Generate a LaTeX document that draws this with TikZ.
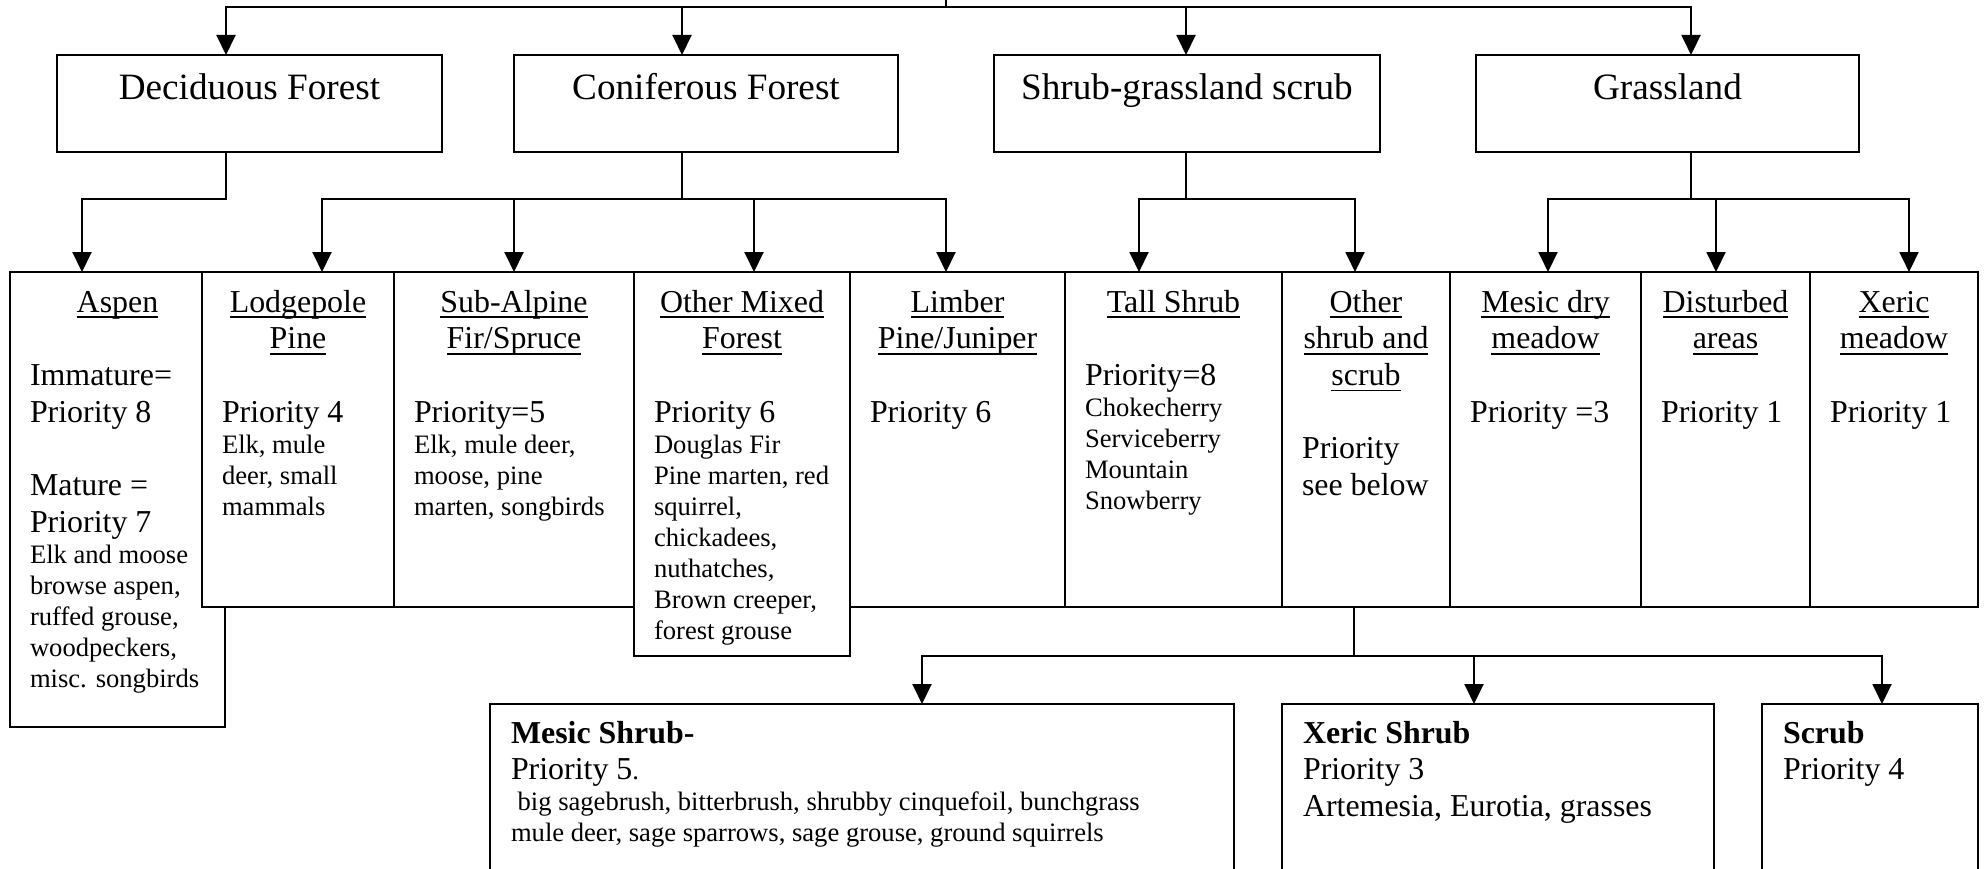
\documentclass[tikz,border=0pt]{standalone}
\usepackage{fontspec}
\setmainfont{Liberation Serif}
\usetikzlibrary{arrows.meta}
\newcommand{\uline}[1]{\leavevmode\setbox0\hbox{#1}\rlap{\rule[-6pt]{\wd0}{1.8pt}}\box0}
\newcommand{\headfont}{\fontsize{37.2}{42.8}\selectfont}
\newcommand{\bigfont}{\fontsize{31.9}{36.7}\selectfont}
\newcommand{\smallfont}{\fontsize{26.6}{31.1}\selectfont}
\newcommand{\boxtext}[3]{\parbox[t][#2pt][t]{#1pt}{#3}}
\newcommand{\lefttext}[1]{\par\leftskip=#1pt\rightskip=0pt plus 1fil\relax}
\newcommand{\blankline}{\par\vspace{36.7pt}}
\begin{document}
\begin{tikzpicture}[x=1pt,y=-1pt]
\tikzstyle{cell}=[draw, line width=2pt, fill=white, inner sep=0pt, outer sep=0pt, anchor=north west]
\tikzstyle{arr}=[line width=2pt, -{Triangle[length=20pt,width=19pt]}]
\tikzstyle{wire}=[line width=2pt]
\useasboundingbox (0,0) rectangle (1986,869);
\node[cell] (dec) at (57,55) {\boxtext{385}{97}{\headfont\centering\rule{0pt}{45pt}Deciduous Forest\par}};
\node[cell] (con) at (514,55) {\boxtext{384}{97}{\headfont\centering\rule{0pt}{45pt}Coniferous Forest\par}};
\node[cell] (shr) at (994,55) {\boxtext{386}{97}{\headfont\centering\rule{0pt}{45pt}Shrub-grassland scrub\par}};
\node[cell] (gra) at (1476,55) {\boxtext{383}{97}{\headfont\centering\rule{0pt}{45pt}Grassland\par}};
\node[cell] (asp) at (10,272) {\boxtext{215}{455}{\bigfont\centering\rule{0pt}{40pt}\uline{Aspen}\lefttext{20}\vspace{36.7pt}Immature=\\Priority 8\blankline Mature =\\Priority 7\par
  \smallfont Elk and moose\\browse aspen,\\ruffed grouse,\\woodpeckers,\\misc. songbirds\par}};
\node[cell] (lod) at (202,272) {\boxtext{192}{335}{\bigfont\centering\rule{0pt}{40pt}\uline{Lodgepole}\\\uline{Pine}\lefttext{20}\vspace{36.7pt}Priority 4\par
  \smallfont Elk, mule\\deer, small\\mammals\par}};
\node[cell] (sub) at (394,272) {\boxtext{240}{335}{\bigfont\centering\rule{0pt}{40pt}\uline{Sub-Alpine}\\\uline{Fir/Spruce}\lefttext{20}\vspace{36.7pt}Priority=5\par
  \smallfont Elk, mule deer,\\moose, pine\\marten, songbirds\par}};
\node[cell] (mix) at (634,272) {\boxtext{216}{384}{\bigfont\centering\rule{0pt}{40pt}\uline{Other Mixed}\\\uline{Forest}\lefttext{20}\vspace{36.7pt}Priority 6\par
  \smallfont Douglas Fir\\Pine marten, red\\squirrel,\\chickadees,\\nuthatches,\\Brown creeper,\\forest grouse\par}};
\node[cell] (lim) at (850,272) {\boxtext{215}{335}{\bigfont\centering\rule{0pt}{40pt}\uline{Limber}\\\uline{Pine/Juniper}\lefttext{20}\vspace{36.7pt}Priority 6\par}};
\node[cell] (tal) at (1065,272) {\boxtext{217}{335}{\bigfont\centering\rule{0pt}{40pt}\uline{Tall Shrub}\lefttext{20}\vspace{36.7pt}Priority=8\par
  \smallfont Chokecherry\\Serviceberry\\Mountain\\Snowberry\par}};
\node[cell] (oth) at (1282,272) {\boxtext{168}{335}{\bigfont\centering\rule{0pt}{40pt}\uline{Other}\\\uline{shrub and}\\\uline{scrub}\lefttext{20}\vspace{36.7pt}Priority\\see below\par}};
\node[cell] (mes) at (1450,272) {\boxtext{191}{335}{\bigfont\centering\rule{0pt}{40pt}\uline{Mesic dry}\\\uline{meadow}\lefttext{20}\vspace{36.7pt}Priority =3\par}};
\node[cell] (dis) at (1641,272) {\boxtext{169}{335}{\bigfont\centering\rule{0pt}{40pt}\uline{Disturbed}\\\uline{areas}\lefttext{20}\vspace{36.7pt}Priority 1\par}};
\node[cell] (xme) at (1810,272) {\boxtext{168}{335}{\bigfont\centering\rule{0pt}{40pt}\uline{Xeric}\\\uline{meadow}\lefttext{20}\vspace{36.7pt}Priority 1\par}};
\node[cell] (msh) at (490,704) {\boxtext{744}{200}{\bigfont\lefttext{21}\rule{0pt}{39pt}\textbf{Mesic Shrub-}\\Priority 5{\smallfont.}\par
  \smallfont\ big sagebrush, bitterbrush, shrubby cinquefoil, bunchgrass\\mule deer, sage sparrows, sage grouse, ground squirrels\par}};
\node[cell] (xsh) at (1282,704) {\boxtext{432}{200}{\bigfont\lefttext{21}\rule{0pt}{39pt}\textbf{Xeric Shrub}\\Priority 3\\Artemesia, Eurotia, grasses\par}};
\node[cell] (scr) at (1762,704) {\boxtext{216}{200}{\bigfont\lefttext{21}\rule{0pt}{39pt}\textbf{Scrub}\\Priority 4\par}};
\coordinate (root) at (946,-20);
\draw[wire] (root) -- ++(0,27) coordinate (topbus);
\draw[arr] (topbus) -| ([xshift=-23.5]dec.north);
\draw[arr] (topbus) -| ([xshift=-24]con.north);
\draw[arr] (topbus) -| ([xshift=-1]shr.north);
\draw[arr] (topbus) -| ([xshift=23.5]gra.north);
\draw[arr] ([xshift=-23.5]dec.south) -- ++(0,47) -| ([xshift=-35.5]asp.north);
\draw[wire] ([xshift=-24]con.south) -- ++(0,47) coordinate (conbus);
\draw[arr] (conbus) -| ([xshift=24]lod.north);
\draw[arr] (conbus) -| (sub.north);
\draw[arr] (conbus) -| ([xshift=12]mix.north);
\draw[arr] (conbus) -| ([xshift=-11.5]lim.north);
\draw[wire] ([xshift=-1]shr.south) -- ++(0,47) coordinate (shrbus);
\draw[arr] (shrbus) -| ([xshift=-34.5]tal.north);
\draw[arr] (shrbus) -| ([xshift=-11]oth.north);
\draw[wire] ([xshift=23.5]gra.south) -- ++(0,47) coordinate (grabus);
\draw[arr] (grabus) -| ([xshift=2.5]mes.north);
\draw[arr] (grabus) -| ([xshift=-9.5]dis.north);
\draw[arr] (grabus) -| ([xshift=15]xme.north);
\draw[wire] ([xshift=-12]oth.south) -- ++(0,49) coordinate (othbus);
\draw[arr] (othbus) -| ([xshift=60]msh.north);
\draw[arr] (othbus) -| ([xshift=-24]xsh.north);
\draw[arr] (othbus) -| ([xshift=12]scr.north);
\end{tikzpicture}
\end{document}
